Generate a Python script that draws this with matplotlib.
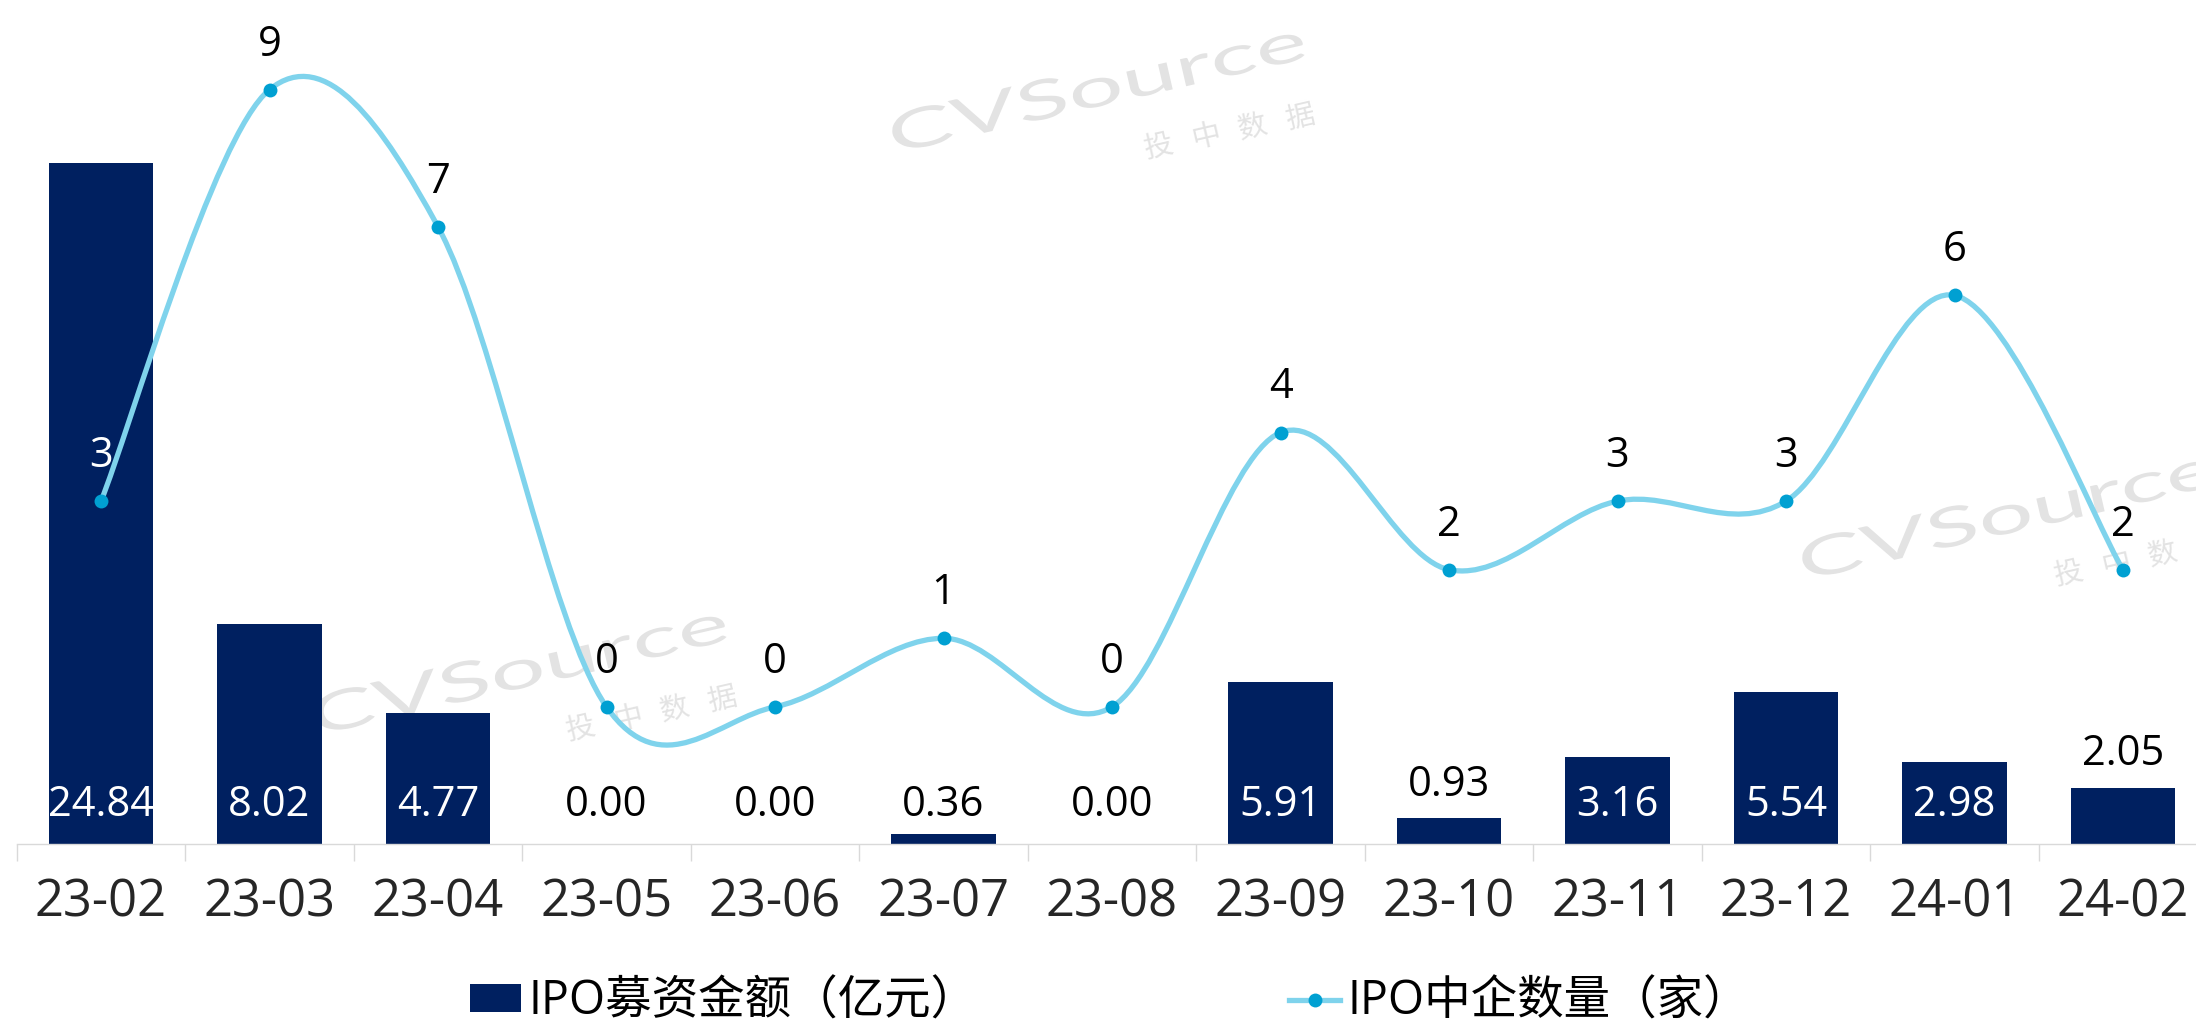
import matplotlib.pyplot as plt
import numpy as np
from matplotlib.path import Path
from matplotlib.patches import PathPatch, Patch
from matplotlib.lines import Line2D
from matplotlib.textpath import TextPath
from matplotlib.font_manager import FontProperties
from matplotlib.transforms import Affine2D

# data
months = ['23-02', '23-03', '23-04', '23-05', '23-06', '23-07', '23-08',
          '23-09', '23-10', '23-11', '23-12', '24-01', '24-02']
amount = [24.84, 8.02, 4.77, 0.00, 0.00, 0.36, 0.00, 5.91, 0.93, 3.16, 5.54, 2.98, 2.05]   # IPO募资金额（亿元）
count = [3, 9, 7, 0, 0, 1, 0, 4, 2, 3, 3, 6, 2]                                           # IPO中企数量（家）
bar_name = 'IPO募资金额（亿元）'
line_name = 'IPO中企数量（家）'

bar_col = '#002060'
line_col = '#7fd3ec'
dot_col = '#00a0d2'
W, H = 2196, 1025

fig = plt.figure(figsize=(W / 100, H / 100), dpi=100)
ax = fig.add_axes([16.75 / W, 181 / H, 2190.5 / W, 823 / H])
ax.set_facecolor('none')
ax2 = ax.twinx()

x = np.arange(len(months))
ax.bar(x, amount, width=0.623, color=bar_col, zorder=2)
ax.set_xlim(-0.5, len(months) - 0.5)
ax.set_ylim(0, 30)
ax2.set_ylim(-2, 10)

for s in ['top', 'left', 'right']:
    ax.spines[s].set_visible(False)
for s in ax2.spines.values():
    s.set_visible(False)
ax.spines['bottom'].set_color('#d9d9d9')
ax.spines['bottom'].set_linewidth(1.0)
ax.set_yticks([])
ax2.set_yticks([])

ax.set_xticks(x)
ax.set_xticklabels(months, fontsize=36.5, color='#262626', family='Open Sans')
ax.tick_params(axis='x', which='major', length=0, pad=24)
ax.set_xticks(np.arange(-0.5, len(months), 1), minor=True)
ax.tick_params(axis='x', which='minor', length=12, width=1.0, color='#d9d9d9')

# bar value labels: inside base (white) / at base (black) / above bar (black)
label_mode = ['in', 'in', 'in', 'base', 'base', 'base', 'base', 'in', 'top', 'in', 'in', 'in', 'top']
for i, v in enumerate(amount):
    m = label_mode[i]
    if m == 'top':
        ax.annotate(f'{v:.2f}', (i, v), xytext=(0, 24), textcoords='offset points',
                    ha='center', va='center', fontsize=30, family='Open Sans', color='black', zorder=5)
    else:
        ax.annotate(f'{v:.2f}', (i, 0), xytext=(0, 28), textcoords='offset points',
                    ha='center', va='center', fontsize=30, family='Open Sans',
                    color='white' if m == 'in' else 'black', zorder=5)

# smoothed line like excel (catmull-rom bezier)
def smooth_path(xs, ys):
    pts = np.column_stack([xs, ys]).astype(float)
    n = len(pts)
    verts = [pts[0]]
    codes = [Path.MOVETO]
    for i in range(n - 1):
        p0 = pts[max(i - 1, 0)]
        p1 = pts[i]
        p2 = pts[i + 1]
        p3 = pts[min(i + 2, n - 1)]
        verts += [p1 + (p2 - p0) / 6, p2 - (p3 - p1) / 6, p2]
        codes += [Path.CURVE4] * 3
    return Path(verts, codes)

ax2.add_patch(PathPatch(smooth_path(x, count), facecolor='none', edgecolor=line_col,
                        lw=3.8, capstyle='round', zorder=3))
ax2.plot(x, count, 'o', ms=10, color=dot_col, mec='none', zorder=4)
for i, c in enumerate(count):
    ax2.annotate(str(c), (i, c), xytext=(0, 32.4), textcoords='offset points',
                 ha='center', va='center', fontsize=30, family='Open Sans',
                 color='white' if i == 0 else 'black', zorder=5)

# legend
handles = [Patch(facecolor=bar_col),
           Line2D([], [], color=line_col, lw=3.8, marker='o', ms=10, mfc=dot_col, mec='none')]
fig.legend(handles, [bar_name, line_name], loc='center', bbox_to_anchor=(1110 / W, 1 - 1002 / H),
           ncol=2, frameon=False, prop=FontProperties(family=['Open Sans', 'Noto Sans CJK SC'], size=33.5),
           handlelength=1.1, handleheight=0.55, handletextpad=0.15, columnspacing=6.7)

# watermarks
wm_col = '#e3e3e3'

def watermark(px, py, ang=13):
    tp = TextPath((0, 0), 'CVSource', size=100, prop=FontProperties(family='Lato'))
    ext = tp.get_extents()
    sx = 420 / ext.width
    sy = 40 / ext.height
    tr = Affine2D().translate(-ext.x0, 0).scale(sx, sy).rotate_deg(ang).translate(px, H - py)
    fig.add_artist(PathPatch(tp, transform=tr, facecolor=wm_col, edgecolor='none', zorder=-1))
    a = np.deg2rad(11.5)
    for k, ch in enumerate('投中数据'):
        cx = px + 262 + 48 * k * np.cos(a)
        cy = H - py + 6 + 48 * k * np.sin(a)
        if cx > W - 10:
            continue
        fig.text(cx / W, cy / H, ch, rotation=ang, ha='center', va='center',
                 fontsize=21, family='Noto Sans CJK SC', color=wm_col, zorder=-1)

watermark(897, 153)
watermark(319, 735)
watermark(1807, 580)

fig.savefig('out.png', dpi=100)
